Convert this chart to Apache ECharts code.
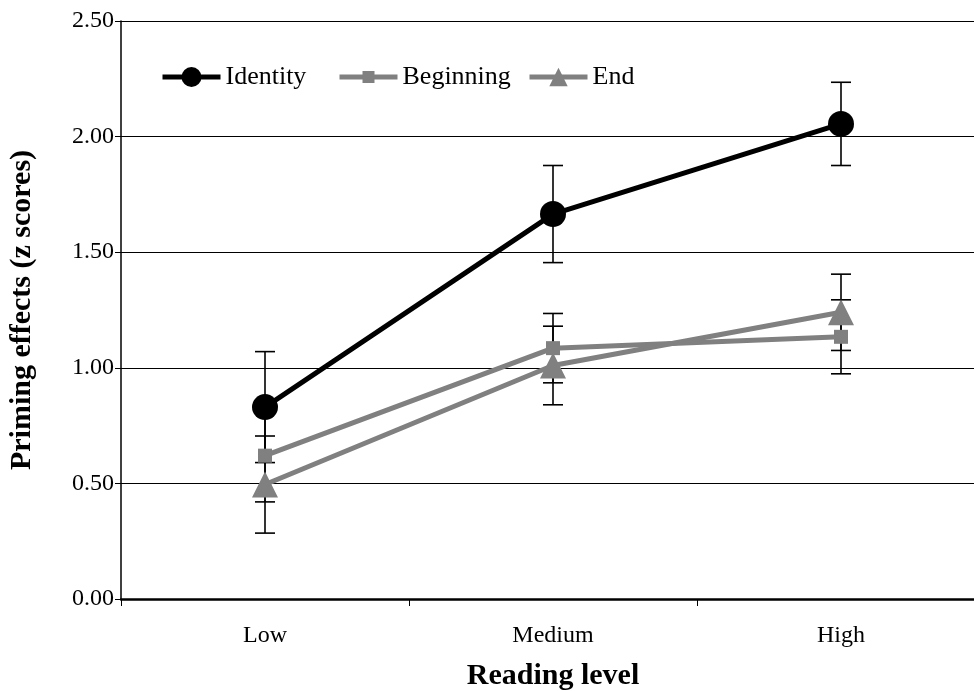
<!DOCTYPE html>
<html>
<head>
<meta charset="utf-8">
<script src="https://cdn.jsdelivr.net/npm/echarts@6/dist/echarts.min.js"></script>
<style>
html,body{margin:0;padding:0;background:#fff;}
#main{width:974px;height:691px;}
</style>
</head>
<body>
<div id="main"></div>
<script>
var categories = ['Low', 'Medium', 'High'];
var yTicks = [0, 0.5, 1.0, 1.5, 2.0, 2.5];
var identityMean = [0.83, 1.665, 2.055];
var identityErr = [0.24, 0.21, 0.18];
var beginningMean = [0.62, 1.085, 1.134];
var beginningErr = [0.20, 0.15, 0.16];
var endMean = [0.495, 1.01, 1.24];
var endErr = [0.21, 0.17, 0.165];

var FONT = '"Liberation Serif", "Times New Roman", serif';

function errData(mean, err) {
  return mean.map(function (m, i) { return [i, m - err[i], m + err[i]]; });
}
function errSeries(name, mean, err) {
  return {
    type: 'custom',
    name: name + ' err',
    z: 1,
    silent: true,
    data: errData(mean, err),
    renderItem: function (params, api) {
      var x = api.value(0);
      var lo = api.coord([x, api.value(1)]);
      var hi = api.coord([x, api.value(2)]);
      var hw = 10;
      var style = { stroke: '#000', lineWidth: 1.6 };
      return {
        type: 'group',
        children: [
          { type: 'line', shape: { x1: lo[0], y1: lo[1], x2: hi[0], y2: hi[1] }, style: style },
          { type: 'line', shape: { x1: lo[0] - hw, y1: lo[1], x2: lo[0] + hw, y2: lo[1] }, style: style },
          { type: 'line', shape: { x1: hi[0] - hw, y1: hi[1], x2: hi[0] + hw, y2: hi[1] }, style: style }
        ]
      };
    }
  };
}

function legendFor(name, left, itemHeight) {
  return {
    left: left, top: 64, padding: 0,
    itemWidth: 58, itemHeight: itemHeight,
    lineStyle: { width: 5 },
    textStyle: { fontFamily: FONT, fontSize: 26, color: '#000' },
    data: [name]
  };
}

var chart = echarts.init(document.getElementById('main'));
chart.setOption({
  animation: false,
  backgroundColor: '#fff',
  grid: { left: 121, right: -11, top: 21, bottom: 92, containLabel: false, outerBoundsMode: 'none' },
  legend: [
    legendFor('Identity', 160, 25),
    legendFor('Beginning', 337, 15),
    legendFor('End', 527, 23)
  ],
  xAxis: {
    type: 'category',
    data: categories,
    boundaryGap: true,
    name: 'Reading level',
    nameLocation: 'middle',
    nameGap: 62,
    nameTextStyle: { fontFamily: FONT, fontSize: 30, fontWeight: 'bold', color: '#000' },
    axisLine: { lineStyle: { color: '#000', width: 2.5 } },
    axisTick: { show: true, length: 7, lineStyle: { color: '#000', width: 1 } },
    axisLabel: { fontFamily: FONT, fontSize: 24, color: '#000', margin: 25 },
    splitLine: { show: false }
  },
  yAxis: {
    type: 'value',
    min: 0, max: 2.5, interval: 0.5,
    name: 'Priming effects (z scores)',
    nameLocation: 'middle',
    nameGap: 84,
    nameTextStyle: { fontFamily: FONT, fontSize: 30, fontWeight: 'bold', color: '#000' },
    axisLine: { show: true, lineStyle: { color: '#000', width: 1.5 } },
    axisTick: { show: true, length: 6, lineStyle: { color: '#000', width: 1 } },
    axisLabel: {
      fontFamily: FONT, fontSize: 24, color: '#000', margin: 7,
      formatter: function (v) { return v.toFixed(2); }
    },
    splitLine: { show: true, lineStyle: { color: '#000', width: 1 } }
  },
  series: [
    errSeries('Identity', identityMean, identityErr),
    errSeries('Beginning', beginningMean, beginningErr),
    errSeries('End', endMean, endErr),
    {
      name: 'Beginning', type: 'line', data: beginningMean, z: 3,
      symbol: 'rect', symbolSize: 14,
      lineStyle: { color: '#808080', width: 5 },
      itemStyle: { color: '#808080' }
    },
    {
      name: 'End', type: 'line', data: endMean, z: 3,
      symbol: 'triangle', symbolSize: 26,
      lineStyle: { color: '#808080', width: 5 },
      itemStyle: { color: '#808080' }
    },
    {
      name: 'Identity', type: 'line', data: identityMean, z: 4,
      symbol: 'circle', symbolSize: 26,
      lineStyle: { color: '#000', width: 5 },
      itemStyle: { color: '#000' }
    }
  ]
});
</script>
</body>
</html>
